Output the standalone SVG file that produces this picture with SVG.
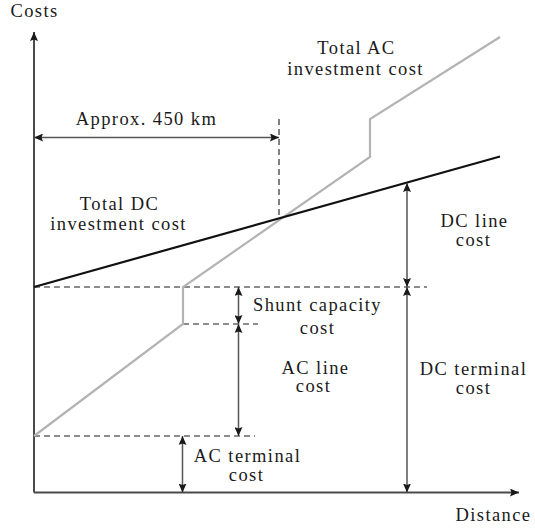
<svg xmlns="http://www.w3.org/2000/svg" width="535" height="529" viewBox="0 0 535 529">
<defs>
<marker id="ah" markerUnits="userSpaceOnUse" markerWidth="10" markerHeight="8" refX="9" refY="4" orient="auto-start-reverse">
<path d="M0,0 L9,4 L0,8 L1.5,4 z" fill="#1a1a1a"/>
</marker>
<style>
text{font-family:"Liberation Serif","Times New Roman",serif;font-size:18.5px;fill:#1a1a1a;letter-spacing:1.4px}
.m{text-anchor:middle}
.axis{stroke:#4a4a4a;stroke-width:2;fill:none}
.dim{stroke:#555;stroke-width:1.5;fill:none}
.dash{stroke:#1a1a1a;stroke-width:1.1;stroke-dasharray:6 4;fill:none}
.dc{stroke:#111;stroke-width:2.2;fill:none}
.ac{stroke:#b3b3b3;stroke-width:2.2;fill:none}
</style>
</defs>
<rect width="535" height="529" fill="#fff"/>
<g id="connectors">
<line class="axis" x1="34" y1="492.5" x2="34" y2="32" marker-end="url(#ah)"/>
<line class="axis" x1="34" y1="492.5" x2="519" y2="492.5" marker-end="url(#ah)"/>
<line class="dash" x1="34" y1="287" x2="427" y2="287"/>
<line class="dash" x1="183" y1="324" x2="258" y2="324"/>
<line class="dash" x1="34" y1="436" x2="255" y2="436"/>
<line class="dash" x1="279" y1="119" x2="279" y2="218"/>
<polyline class="ac" points="34,436 183,324 183,287 370,157 370,119 500,37"/>
<line class="dc" x1="34" y1="287" x2="500" y2="156.5"/>
<line class="dim" x1="34" y1="137.5" x2="279" y2="137.5" marker-start="url(#ah)" marker-end="url(#ah)"/>
<line class="dim" x1="238.5" y1="287" x2="238.5" y2="324" marker-start="url(#ah)" marker-end="url(#ah)"/>
<line class="dim" x1="238.5" y1="324" x2="238.5" y2="436" marker-start="url(#ah)" marker-end="url(#ah)"/>
<line class="dim" x1="182.5" y1="436" x2="182.5" y2="492.5" marker-start="url(#ah)" marker-end="url(#ah)"/>
<line class="dim" x1="407" y1="183" x2="407" y2="287" marker-start="url(#ah)" marker-end="url(#ah)"/>
<line class="dim" x1="407" y1="287" x2="407" y2="492.5" marker-start="url(#ah)" marker-end="url(#ah)"/>
</g>
<g id="costs-label"><text x="34.5" y="17" class="m">Costs</text></g>
<g id="distance-label"><text x="493.5" y="521" class="m">Distance</text></g>
<g id="approx-label"><text x="146.5" y="125" class="m">Approx. 450 km</text></g>
<g id="total-ac"><text x="356.5" y="54" class="m">Total AC</text><text x="355.5" y="75" class="m">investment cost</text></g>
<g id="total-dc"><text x="119.5" y="210" class="m">Total DC</text><text x="118.5" y="230" class="m">investment cost</text></g>
<g id="shunt"><text x="317.5" y="310.5" class="m">Shunt capacity</text><text x="317.5" y="334" class="m">cost</text></g>
<g id="ac-line"><text x="315.5" y="373.5" class="m">AC line</text><text x="313.5" y="392" class="m">cost</text></g>
<g id="ac-terminal"><text x="247.5" y="461.5" class="m">AC terminal</text><text x="246.5" y="480.5" class="m">cost</text></g>
<g id="dc-line"><text x="474.5" y="226.5" class="m">DC line</text><text x="473.5" y="245.5" class="m">cost</text></g>
<g id="dc-terminal"><text x="473.5" y="374.5" class="m">DC terminal</text><text x="473.5" y="393.5" class="m">cost</text></g>
</svg>
